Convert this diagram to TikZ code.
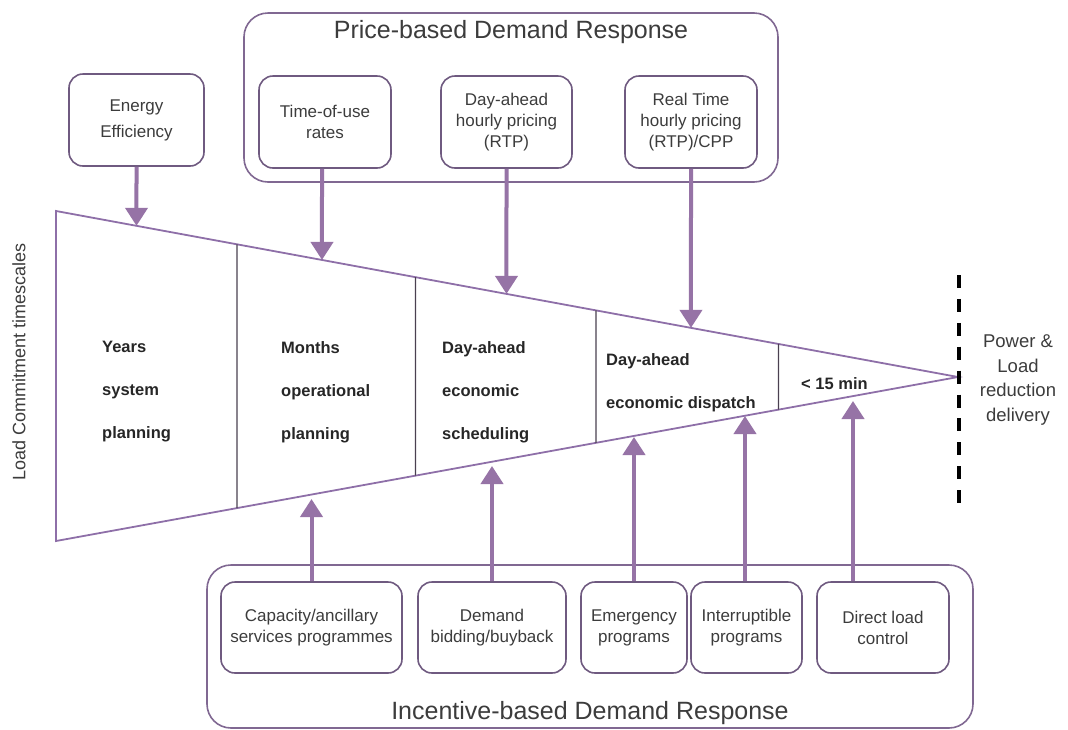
\documentclass[tikz,border=0pt]{standalone}
\usepackage{fontspec}
\setmainfont{Liberation Sans}
\usetikzlibrary{arrows.meta,calc}
\definecolor{arrowc}{HTML}{9673A6}
\definecolor{boxc}{HTML}{6F5A80}
\definecolor{outerc}{HTML}{806892}
\definecolor{tric}{HTML}{8E6FA8}
\definecolor{divc}{HTML}{4A4050}
\definecolor{txt}{HTML}{3C3C3C}
\tikzset{
  innerbox/.style={draw=boxc, line width=1.6pt, rounded corners=14pt, align=center, text=txt,
    font=\fontsize{17}{21}\selectfont, inner sep=0pt},
  outerbox/.style={draw=outerc, line width=1.6pt, rounded corners=24pt, inner sep=0pt},
  flow/.style={draw=arrowc, line width=4pt, -{Triangle[width=22pt,length=18pt]}},
  secttxt/.style={anchor=west, align=left, text=black!85, font=\bfseries\fontsize{16.5}{43}\selectfont, inner sep=0pt},
  titletxt/.style={text=txt, font=\fontsize{25}{30}\selectfont, inner sep=0pt},
}
\newcommand{\topx}[2]{(intersection cs: first line={(#1)--(#2)}, second line={(tl)--(ap)})}
\newcommand{\botx}[2]{(intersection cs: first line={(#1)--(#2)}, second line={(bl)--(ap)})}
\begin{document}
\begin{tikzpicture}[x=1pt,y=-1pt]
\useasboundingbox (0,0) rectangle (1068,729);
% outer group boxes
\node[outerbox, minimum width=534pt, minimum height=169pt] (price) at (511,97.5) {};
\node[titletxt] (pricet) at (511,32) {Price-based Demand Response};
\node[outerbox, minimum width=766pt, minimum height=163pt] (incent) at (590,646.5) {};
\node[titletxt] (incentt) at (590,713) {Incentive-based Demand Response};
% top boxes
\node[innerbox, minimum width=135pt, minimum height=92pt, font=\fontsize{17}{26}\selectfont] (ee) at (136.5,120) {Energy\\Efficiency};
\node[innerbox, minimum width=132pt, minimum height=92pt] (tou) at (325,122) {Time-of-use\\rates};
\node[innerbox, minimum width=131pt, minimum height=92pt] (dah) at (506.5,122) {Day-ahead\\hourly pricing\\(RTP)};
\node[innerbox, minimum width=132pt, minimum height=92pt] (rt) at (691,122) {Real Time\\hourly pricing\\(RTP)/CPP};
% bottom boxes
\node[innerbox, minimum width=181pt, minimum height=91pt] (cap) at (311.5,627.5) {Capacity/ancillary\\services programmes};
\node[innerbox, minimum width=148pt, minimum height=91pt] (dem) at (492,627.5) {Demand\\bidding/buyback};
\node[innerbox, minimum width=106pt, minimum height=91pt] (emg) at (634,627.5) {Emergency\\programs};
\node[innerbox, minimum width=111pt, minimum height=91pt] (intr) at (746.5,627.5) {Interruptible\\programs};
\node[innerbox, minimum width=132pt, minimum height=91pt] (dlc) at (883,627.5) {Direct load\\control};
% triangle
\coordinate (tl) at (56,211);
\coordinate (bl) at (56,541);
\coordinate (ap) at (958,377);
\draw[draw=tric, line width=1.8pt, line join=miter] (tl) -- (ap) -- (bl) -- cycle;
\foreach \xx in {237,415.5,596,778.5}{
  \coordinate (dA) at (\xx,0);
  \coordinate (dB) at (\xx,10);
  \draw[divc, line width=1.2pt] \topx{dA}{dB} -- \botx{dA}{dB};
}
% section texts
\node[secttxt] (s1) at (102,392) {Years\\system\\planning};
\node[secttxt] (s2) at (281,392) {Months\\operational\\planning};
\node[secttxt] (s3) at (442,392) {Day-ahead\\economic\\scheduling};
\node[secttxt] (s4) at (606,383) {Day-ahead\\economic dispatch};
\node[secttxt] (s5) at (801,384) {< 15 min};
% top arrows
\coordinate (tous) at ([xshift=-3pt]tou.south);
\coordinate (toun) at ([xshift=-3pt]tou.north);
\draw[flow] (ee.south) -- \topx{ee.north}{ee.south};
\draw[flow] (tous) -- \topx{toun}{tous};
\draw[flow] (dah.south) -- \topx{dah.north}{dah.south};
\draw[flow] (rt.south) -- \topx{rt.north}{rt.south};
% bottom arrows
\coordinate (intn) at ([xshift=-1.5pt]intr.north);
\coordinate (dlcx) at ([xshift=-30pt]dlc.north);
\coordinate (capt) at (cap.north |- 0,499);
\coordinate (demt) at (dem.north |- 0,466);
\coordinate (emgt) at (emg.north |- 0,437);
\coordinate (intt) at (intn |- 0,416);
\coordinate (dlct) at (dlcx |- 0,401);
\draw[flow] (cap.north) -- (capt);
\draw[flow] (dem.north) -- (demt);
\draw[flow] (emg.north) -- (emgt);
\draw[flow] (intn) -- (intt);
\draw[flow] (dlcx) -- (dlct);
% right side
\coordinate (dt) at (959,275);
\coordinate (db) at (959,503);
\draw[black, line width=4pt, dash pattern=on 13pt off 10.9pt] (dt) -- (db);
\node[align=center, text=txt, font=\fontsize{18.5}{24.7}\selectfont, inner sep=0pt] (pl) at (1018,380) {Power \&\\Load\\reduction\\delivery};
% left label
\node[rotate=90, text=txt, font=\fontsize{18}{20}\selectfont, inner sep=0pt] (lct) at (19,362) {Load Commitment timescales};
\end{tikzpicture}
\end{document}
